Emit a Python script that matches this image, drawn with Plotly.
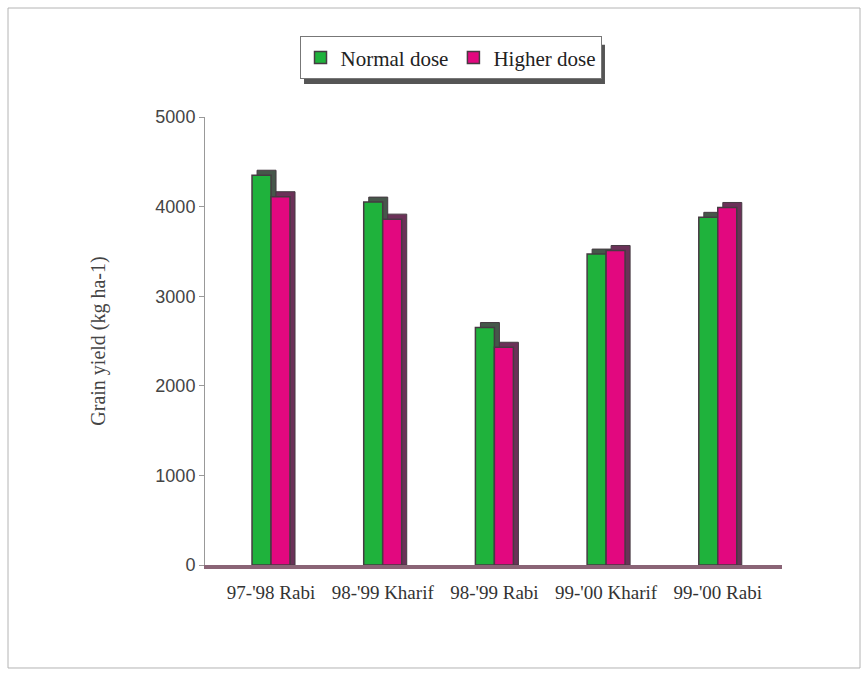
import plotly.graph_objects as go

# Grain yield by season for two fertiliser doses
seasons = ["97-'98 Rabi", "98-'99 Kharif", "98-'99 Rabi", "99-'00 Kharif", "99-'00 Rabi"]
normal_dose = [4350, 4050, 2650, 3470, 3880]
higher_dose = [4110, 3860, 2430, 3510, 3990]

positions = list(range(len(seasons)))

GREEN = "#1fb23c"
MAGENTA = "#e2087f"
GREEN_SIDE = "#46574a"
MAGENTA_SIDE = "#6b3158"
EDGE = "#463a42"

BAR_W = 0.17          # width of each bar in category units
DEPTH_X = 0.045       # horizontal extrusion of the pseudo-3D side
DEPTH_Y = 56          # vertical extrusion (data units)

fig = go.Figure()


def add_series(name, values, color, side_color, offset):
    # dark extruded block behind the front face
    fig.add_trace(go.Bar(
        x=positions, y=[v + DEPTH_Y for v in values],
        width=BAR_W, offset=offset + DEPTH_X,
        marker=dict(color=side_color, line=dict(color=EDGE, width=1)),
        showlegend=False, hoverinfo="skip",
    ))
    # front face
    fig.add_trace(go.Bar(
        x=positions, y=values, name=name,
        width=BAR_W, offset=offset,
        marker=dict(color=color, line=dict(color=EDGE, width=1.5)),
    ))


add_series("Normal dose", normal_dose, GREEN, GREEN_SIDE, -BAR_W)
add_series("Higher dose", higher_dose, MAGENTA, MAGENTA_SIDE, 0)

fig.update_layout(
    width=868, height=673,
    margin=dict(l=205, r=86, t=117, b=108),
    paper_bgcolor="white", plot_bgcolor="white",
    barmode="overlay",
    font=dict(family="Liberation Serif", color="#333"),
    legend=dict(
        orientation="h", x=0.4255, y=1.18, xanchor="center", yanchor="top",
        bgcolor="white", bordercolor="#777", borderwidth=1,
        font=dict(family="Liberation Serif", size=21, color="#222"),
        itemwidth=30, tracegroupgap=0,
    ),
    xaxis=dict(
        range=[-0.591, 4.575],
        tickmode="array", tickvals=positions, ticktext=seasons,
        tickfont=dict(family="Liberation Serif", size=19, color="#333"),
        ticks="", ticklabelstandoff=7,
        showline=True, linecolor="#8a6476", linewidth=4,
        showgrid=False, zeroline=False,
    ),
    yaxis=dict(
        range=[0, 5000], dtick=1000,
        tickfont=dict(family="Liberation Sans", size=18, color="#444"),
        ticks="outside", ticklen=5, tickcolor="#999",
        showline=True, linecolor="#999", linewidth=1,
        showgrid=False, zeroline=False,
        title=dict(text="Grain yield (kg ha-1)", standoff=44,
                   font=dict(family="Liberation Serif", size=20, color="#444")),
    ),
    shapes=[
        # outer frame of the figure
        dict(type="rect", xref="paper", yref="paper",
             x0=-0.3414, x1=1.1352, y0=-0.2299, y1=1.2433,
             line=dict(color="#b4b4b4", width=1), layer="below"),
        # drop shadow under the legend box
        dict(type="rect", xref="paper", yref="paper",
             x0=0.1716, x1=0.6932, y0=1.0737, y1=1.161,
             fillcolor="#555", line=dict(width=0), layer="above"),
    ],
)

fig.write_html("out.html")
